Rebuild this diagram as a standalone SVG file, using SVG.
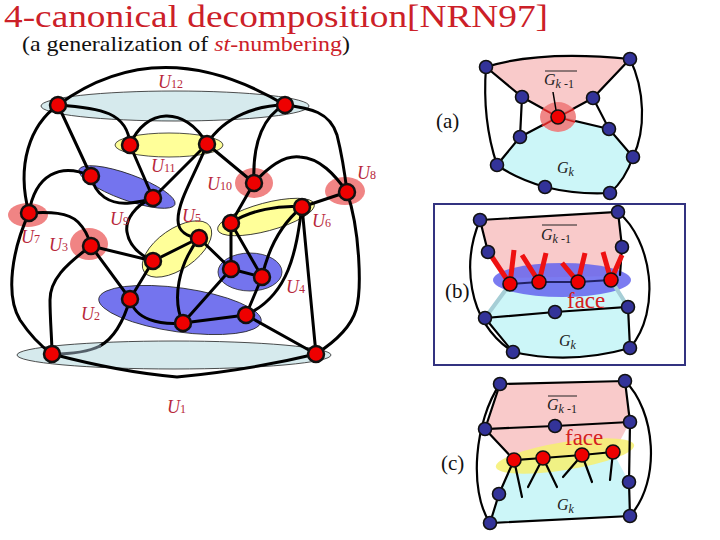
<svg xmlns="http://www.w3.org/2000/svg" width="720" height="540" viewBox="0 0 720 540">
<style>
.e{fill:none;stroke:#000;stroke-width:3;stroke-linecap:round}
.t{fill:none;stroke:#000;stroke-width:2.2;stroke-linecap:round}
.n{fill:#EE0000;stroke:#111;stroke-width:2.5}
.rn{fill:#EE0000;stroke:#111;stroke-width:1.6}
.bn{fill:#333399;stroke:#111;stroke-width:1.6}
.ul{font-family:"Liberation Serif",serif;font-size:18px;fill:#B8283A}
.ul .s{font-size:12px;font-style:normal}
.g{font-family:"Liberation Serif",serif;font-size:16px;fill:#222}
.lab{font-family:"Liberation Serif",serif;font-size:21px;fill:#111}
.face{font-family:"Liberation Serif",serif;font-size:23px;fill:#D42020}
.cy{fill:#D6EAED;stroke:#222;stroke-width:0.8}
.ye{fill:#FFFF99;stroke:#222;stroke-width:0.8}
.bl{fill:#7474EE;stroke:#222;stroke-width:0.8}
.pk{fill:#F08484}
</style>

<!-- title -->
<text x="4" y="27" font-family="Liberation Serif, serif" font-size="31" fill="#CC2028" textLength="544" lengthAdjust="spacingAndGlyphs">4-canonical decomposition[NRN97]</text>
<text x="22" y="51" font-family="Liberation Serif, serif" font-size="21" fill="#111" textLength="328" lengthAdjust="spacingAndGlyphs">(a generalization of <tspan fill="#CC2028" font-style="italic">st</tspan><tspan fill="#CC2028">-numbering</tspan>)</text>

<!-- left graph: vertex sets -->
<g id="sets">
<ellipse class="cy" cx="175" cy="106" rx="134" ry="15"/>
<ellipse class="cy" cx="174" cy="355" rx="157" ry="14"/>
<ellipse class="ye" cx="169" cy="145" rx="54" ry="12"/>
<ellipse class="bl" cx="127" cy="187" rx="51" ry="13" transform="rotate(20 127 187)"/>
<ellipse class="pk" cx="254" cy="183" rx="19" ry="15"/>
<ellipse class="pk" cx="345" cy="191" rx="20" ry="14"/>
<ellipse class="pk" cx="28" cy="215" rx="20" ry="12"/>
<ellipse class="pk" cx="89" cy="244" rx="19" ry="16"/>
<ellipse class="ye" cx="177" cy="249" rx="40" ry="20" transform="rotate(-35 177 249)"/>
<ellipse class="ye" cx="266" cy="217" rx="50" ry="14" transform="rotate(-15 266 217)"/>
<ellipse class="bl" cx="250" cy="272" rx="32" ry="19"/>
<ellipse class="bl" cx="180" cy="310" rx="82" ry="22" transform="rotate(8 180 310)"/>
</g>

<g id="connectors">
<path class="e" d="M58,105 Q160,30 285,105"/>
<path class="e" d="M58,105 C30,125 16,165 29,213"/>
<path class="e" d="M58,105 L91,176"/>
<path class="e" d="M58,105 C100,108 128,112 130,145"/>
<path class="e" d="M130,145 L153,198"/>
<path class="e" d="M130,145 C145,108 185,105 207,144"/>
<path class="e" d="M207,144 L153,198"/>
<path class="e" d="M207,144 L254,183"/>
<path class="e" d="M207,144 C225,115 260,105 285,105"/>
<path class="e" d="M207,144 C195,175 178,200 178,220 C178,232 188,237 199,238"/>
<path class="e" d="M285,105 C265,115 252,140 254,183"/>
<path class="e" d="M254,183 C270,165 285,155 300,157 C320,158 335,175 347,192"/>
<path class="e" d="M285,105 C310,108 330,112 337,135 C342,155 345,175 347,192"/>
<path class="e" d="M254,183 L231,223"/>
<path class="e" d="M347,192 L302,207"/>
<path class="e" d="M347,192 C360,230 362,290 356,310 C350,330 330,345 316,354"/>
<path class="e" d="M231,223 C250,210 280,205 302,207"/>
<path class="e" d="M302,207 L316,354"/>
<path class="e" d="M302,207 C280,225 268,250 262,277"/>
<path class="e" d="M302,207 C296,250 290,295 246,315"/>
<path class="e" d="M231,223 L231,269"/>
<path class="e" d="M231,223 L262,277"/>
<path class="e" d="M231,269 L262,277"/>
<path class="e" d="M199,238 L231,269"/>
<path class="e" d="M231,269 L183,323"/>
<path class="e" d="M262,277 L246,315"/>
<path class="e" d="M199,238 L153,261"/>
<path class="e" d="M199,238 C178,265 172,300 183,323"/>
<path class="e" d="M153,198 C135,205 125,220 127,232 C129,245 140,255 153,261"/>
<path class="e" d="M91,176 C95,195 110,205 130,203 C140,202 148,200 153,198"/>
<path class="e" d="M91,176 C60,162 35,175 29,213"/>
<path class="e" d="M29,213 C50,212 68,212 78,222 C86,230 89,238 91,246"/>
<path class="e" d="M29,213 C12,250 5,295 20,320 C30,335 42,347 52,354"/>
<path class="e" d="M91,246 L153,261"/>
<path class="e" d="M91,246 L130,299"/>
<path class="e" d="M91,246 C65,265 50,280 50,300 C50,320 52,340 52,354"/>
<path class="e" d="M153,261 L130,299"/>
<path class="e" d="M130,299 C135,320 160,325 183,323"/>
<path class="e" d="M130,299 C124,320 114,338 100,346"/>
<path d="M100,346 C88,352 70,354 52,354" fill="none" stroke="#55606A" stroke-width="3" stroke-linecap="round"/>
<path class="e" d="M183,323 L246,315"/>
<path class="e" d="M246,315 L316,354"/>
<path class="e" d="M52,354 Q120,372 177,377 Q250,370 316,354"/>
</g>

<g id="nodes">
<circle class="n" cx="58" cy="105" r="8"/>
<circle class="n" cx="285" cy="105" r="8"/>
<circle class="n" cx="130" cy="145" r="8"/>
<circle class="n" cx="207" cy="144" r="8"/>
<circle class="n" cx="91" cy="176" r="8"/>
<circle class="n" cx="153" cy="198" r="8"/>
<circle class="n" cx="254" cy="183" r="8"/>
<circle class="n" cx="347" cy="192" r="8"/>
<circle class="n" cx="29" cy="213" r="8"/>
<circle class="n" cx="91" cy="246" r="8"/>
<circle class="n" cx="153" cy="261" r="8"/>
<circle class="n" cx="199" cy="238" r="8"/>
<circle class="n" cx="231" cy="223" r="8"/>
<circle class="n" cx="302" cy="207" r="8"/>
<circle class="n" cx="231" cy="269" r="8"/>
<circle class="n" cx="262" cy="277" r="8"/>
<circle class="n" cx="130" cy="299" r="8"/>
<circle class="n" cx="183" cy="323" r="8"/>
<circle class="n" cx="246" cy="315" r="8"/>
<circle class="n" cx="52" cy="354" r="8"/>
<circle class="n" cx="316" cy="354" r="8"/>
</g>

<g id="labels">
<text class="ul" x="158" y="88"><tspan font-style="italic">U</tspan><tspan class="s">12</tspan></text>
<text class="ul" x="151" y="172"><tspan font-style="italic">U</tspan><tspan class="s">11</tspan></text>
<text class="ul" x="207" y="190"><tspan font-style="italic">U</tspan><tspan class="s">10</tspan></text>
<text class="ul" x="110" y="225"><tspan font-style="italic">U</tspan><tspan class="s">9</tspan></text>
<text class="ul" x="182" y="222"><tspan font-style="italic">U</tspan><tspan class="s">5</tspan></text>
<text class="ul" x="357" y="179"><tspan font-style="italic">U</tspan><tspan class="s">8</tspan></text>
<text class="ul" x="312" y="227"><tspan font-style="italic">U</tspan><tspan class="s">6</tspan></text>
<text class="ul" x="21" y="243"><tspan font-style="italic">U</tspan><tspan class="s">7</tspan></text>
<text class="ul" x="49" y="251"><tspan font-style="italic">U</tspan><tspan class="s">3</tspan></text>
<text class="ul" x="286" y="293"><tspan font-style="italic">U</tspan><tspan class="s">4</tspan></text>
<text class="ul" x="81" y="320"><tspan font-style="italic">U</tspan><tspan class="s">2</tspan></text>
<text class="ul" x="167" y="413"><tspan font-style="italic">U</tspan><tspan class="s">1</tspan></text>
</g>

<!-- panel (a) -->
<g id="panel-a">
<path d="M486,67 Q540,50 630,59 L593,98 L558,117 L522,97 Z" fill="#F9CACA"/>
<path d="M520,137 L558,117 L609,129 L633,157 Q625,180 610,193 Q578,195 545,187 Q515,178 497,165 Z" fill="#CCF6F8"/>
<path class="t" d="M486,67 Q540,50 630,59"/>
<path class="t" d="M486,67 Q482,120 497,165"/>
<path class="t" d="M630,59 C645,90 646,130 633,157"/>
<path class="t" d="M630,59 L593,98 L609,129 L633,157"/>
<path class="t" d="M486,67 L522,97 L520,137 L497,165"/>
<path class="t" d="M522,97 L558,117 L593,98 M520,137 L558,117 L609,129"/>
<path class="t" d="M497,165 Q515,178 545,187 Q578,195 610,193 Q625,180 633,157"/>
<ellipse cx="558" cy="117" rx="18" ry="15" fill="#EE7A7A" opacity="0.9"/>
<path d="M558,117 L543,109 M558,117 L574,109 M558,117 L542,126 M558,117 L575,122" stroke="#D02020" stroke-width="1.5"/>
<path d="M553,92 L556,110" stroke="#000" stroke-width="1.5"/>
<circle class="rn" cx="558" cy="117" r="7"/>
<circle class="bn" cx="486" cy="67" r="6.5"/>
<circle class="bn" cx="630" cy="59" r="6.5"/>
<circle class="bn" cx="522" cy="97" r="6.5"/>
<circle class="bn" cx="593" cy="98" r="6.5"/>
<circle class="bn" cx="520" cy="137" r="6.5"/>
<circle class="bn" cx="609" cy="129" r="6.5"/>
<circle class="bn" cx="497" cy="165" r="6.5"/>
<circle class="bn" cx="633" cy="157" r="6.5"/>
<circle class="bn" cx="545" cy="187" r="6.5"/>
<circle class="bn" cx="610" cy="193" r="6.5"/>
<text class="lab" x="436" y="128">(a)</text>
<text class="g" x="544" y="85"><tspan font-style="italic">G</tspan><tspan font-size="12" font-style="italic" dy="3">k</tspan><tspan font-size="12"> -1</tspan></text>
<line x1="545" y1="71" x2="577" y2="71" stroke="#222" stroke-width="1"/>
<text class="g" x="557" y="173"><tspan font-style="italic">G</tspan><tspan font-size="12" font-style="italic" dy="3">k</tspan></text>
</g>

<!-- panel (b) -->
<g id="panel-b">
<rect x="434" y="204" width="251" height="161" fill="none" stroke="#333380" stroke-width="2"/>
<path d="M480,220 L618,212 L622,247 L620,276 L505,278 L488,252 Z" fill="#F9CACA"/>
<path d="M510,284 L611,280 L628,307 L630,348 Q570,365 513,352 L485,318 Z" fill="#CCF6F8"/>
<ellipse cx="562" cy="280" rx="69" ry="17" fill="#6464EE" opacity="0.85"/>
<path class="t" d="M480,220 L618,212 L622,247 L620,275 M480,220 L488,252"/>
<path class="t" d="M480,220 C463,260 465,320 513,352"/>
<path class="t" d="M618,212 C652,240 662,310 630,348"/>
<path class="t" d="M485,318 L555,312 L628,307 L630,348 M485,318 L513,352 Q570,365 630,348"/>
<path d="M510,284 L539,282 L578,282 L611,280" fill="none" stroke="#222266" stroke-width="2"/>
<path d="M510,284 L485,318 M611,280 L628,307" stroke="#A6CED6" stroke-width="4"/>
<path d="M510,284 L492,257 M510,284 L514,250 M539,282 L522,255 M539,282 L546,253 M578,282 L562,263 M578,282 L585,253 M611,280 L603,252 M611,280 L622,255" stroke="#EE1111" stroke-width="5" stroke-linecap="butt"/>
<circle class="rn" cx="510" cy="284" r="7"/>
<circle class="rn" cx="539" cy="282" r="7"/>
<circle class="rn" cx="578" cy="282" r="7"/>
<circle class="rn" cx="611" cy="280" r="7"/>
<circle class="bn" cx="480" cy="220" r="6.5"/>
<circle class="bn" cx="618" cy="212" r="6.5"/>
<circle class="bn" cx="488" cy="252" r="6.5"/>
<circle class="bn" cx="622" cy="247" r="6.5"/>
<circle class="bn" cx="628" cy="307" r="6.5"/>
<circle class="bn" cx="555" cy="312" r="6.5"/>
<circle class="bn" cx="485" cy="318" r="6.5"/>
<circle class="bn" cx="513" cy="352" r="6.5"/>
<circle class="bn" cx="630" cy="348" r="6.5"/>
<text class="lab" x="445" y="298">(b)</text>
<text class="g" x="541" y="240"><tspan font-style="italic">G</tspan><tspan font-size="12" font-style="italic" dy="3">k</tspan><tspan font-size="12"> -1</tspan></text>
<line x1="542" y1="225" x2="577" y2="225" stroke="#222" stroke-width="1"/>
<text class="face" x="567" y="308">face</text>
<text class="g" x="559" y="346"><tspan font-style="italic">G</tspan><tspan font-size="12" font-style="italic" dy="3">k</tspan></text>
</g>

<!-- panel (c) -->
<g id="panel-c">
<path d="M500,384 L625,381 L630,422 L615,450 L514,460 L485,429 Z" fill="#F9CACA"/>
<path d="M514,460 L613,452 L629,482 L630,516 L490,523 L499,494 Z" fill="#CCF6F8"/>
<ellipse cx="565" cy="456" rx="70" ry="14" fill="#F6F070" opacity="0.85" transform="rotate(-9 565 456)"/>
<path class="t" d="M500,384 L625,381 L630,422 M500,384 L485,429 L555,426 L630,422 M485,429 L514,460 L543,458 L582,455 L613,452"/>
<path class="t" d="M500,384 C475,420 468,490 490,523"/>
<path class="t" d="M625,381 C655,410 662,480 630,516"/>
<path class="t" d="M630,422 L629,482 L630,516 L490,523 L499,494 L514,460"/>
<path class="t" d="M514,460 L522,497 M543,458 L528,487 M543,458 L557,487 M582,455 L563,477 M582,455 L592,482 M613,452 L610,480"/>
<circle class="rn" cx="514" cy="460" r="7"/>
<circle class="rn" cx="543" cy="458" r="7"/>
<circle class="rn" cx="582" cy="455" r="7"/>
<circle class="rn" cx="613" cy="452" r="7"/>
<circle class="bn" cx="500" cy="384" r="6.5"/>
<circle class="bn" cx="625" cy="381" r="6.5"/>
<circle class="bn" cx="485" cy="429" r="6.5"/>
<circle class="bn" cx="555" cy="426" r="6.5"/>
<circle class="bn" cx="630" cy="422" r="6.5"/>
<circle class="bn" cx="629" cy="482" r="6.5"/>
<circle class="bn" cx="499" cy="494" r="6.5"/>
<circle class="bn" cx="490" cy="523" r="6.5"/>
<circle class="bn" cx="630" cy="516" r="6.5"/>
<text class="lab" x="441" y="470">(c)</text>
<text class="g" x="547" y="410"><tspan font-style="italic">G</tspan><tspan font-size="12" font-style="italic" dy="3">k</tspan><tspan font-size="12"> -1</tspan></text>
<line x1="548" y1="396" x2="577" y2="396" stroke="#222" stroke-width="1"/>
<text class="face" x="565" y="445">face</text>
<text class="g" x="557" y="510"><tspan font-style="italic">G</tspan><tspan font-size="12" font-style="italic" dy="3">k</tspan></text>
</g>
</svg>
